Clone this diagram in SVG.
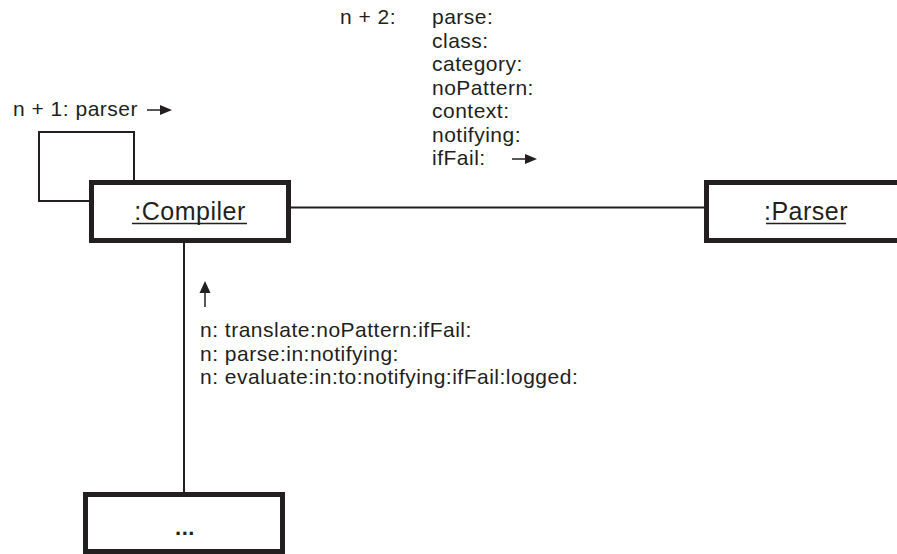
<svg xmlns="http://www.w3.org/2000/svg" width="897" height="554" viewBox="0 0 897 554">
  <style>
    .box { fill: #ffffff; stroke: #231f20; stroke-width: 5; }
    .link { fill: none; stroke: #231f20; stroke-width: 2; }
    .lbl { font-family: "Liberation Sans", Arial, sans-serif; font-size: 21px; letter-spacing: 0.5px; fill: #231f20; }
    .name { font-family: "Liberation Sans", Arial, sans-serif; font-size: 25px; letter-spacing: 0.5px; fill: #231f20; }
    .dots { font-family: "Liberation Sans", Arial, sans-serif; font-size: 22px; font-weight: bold; letter-spacing: 0.5px; fill: #231f20; }
    .uline { stroke: #231f20; stroke-width: 1.5; }
    .msg { stroke: #231f20; stroke-width: 1.5; fill: none; }
    .head { fill: #231f20; }
  </style>
  <rect width="897" height="554" fill="#ffffff"/>

  <!-- connectors -->
  <g id="connectors">
    <!-- self link on the compiler -->
    <polyline class="link" points="134,182 134,132 39,132 39,201 91,201"/>
    <!-- compiler to parser -->
    <line class="link" x1="290" y1="207.5" x2="706" y2="207.5"/>
    <!-- compiler to collaborators -->
    <line class="link" x1="184" y1="242" x2="184" y2="494"/>
  </g>

  <!-- message labels -->
  <g id="msg-self">
    <text class="lbl" x="13" y="116">n + 1: parser</text>
    <line class="msg" x1="147" y1="110" x2="161" y2="110"/>
    <polygon class="head" points="160,105 172,110 160,115"/>
  </g>

  <g id="msg-parser">
    <text class="lbl" x="340" y="24">n + 2:</text>
    <text class="lbl" x="432" y="24">parse:</text>
    <text class="lbl" x="432" y="47.5">class:</text>
    <text class="lbl" x="432" y="71">category:</text>
    <text class="lbl" x="432" y="94.5">noPattern:</text>
    <text class="lbl" x="432" y="118">context:</text>
    <text class="lbl" x="432" y="141.5">notifying:</text>
    <text class="lbl" x="432" y="165">ifFail:</text>
    <line class="msg" x1="512" y1="159" x2="526" y2="159"/>
    <polygon class="head" points="525,154 537,159 525,164"/>
  </g>

  <g id="msg-incoming">
    <line class="msg" x1="205" y1="307" x2="205" y2="292"/>
    <polygon class="head" points="199.5,293 205,281 210.5,293"/>
    <text class="lbl" x="200" y="337">n: translate:noPattern:ifFail:</text>
    <text class="lbl" x="200" y="360.5">n: parse:in:notifying:</text>
    <text class="lbl" x="200" y="384">n: evaluate:in:to:notifying:ifFail:logged:</text>
  </g>

  <!-- nodes -->
  <g id="compiler">
    <rect class="box" x="91.5" y="182.5" width="197" height="58"/>
    <text class="name" x="190" y="220" text-anchor="middle">:Compiler</text>
    <line class="uline" x1="132" y1="223.5" x2="247" y2="223.5"/>
  </g>

  <g id="parser">
    <rect class="box" x="706.5" y="182.5" width="300" height="58"/>
    <text class="name" x="806" y="220" text-anchor="middle">:Parser</text>
    <line class="uline" x1="766" y1="223.5" x2="846" y2="223.5"/>
  </g>

  <g id="others">
    <rect class="box" x="85.5" y="494.5" width="197" height="57"/>
    <text class="dots" x="185" y="535" text-anchor="middle">...</text>
  </g>
</svg>
